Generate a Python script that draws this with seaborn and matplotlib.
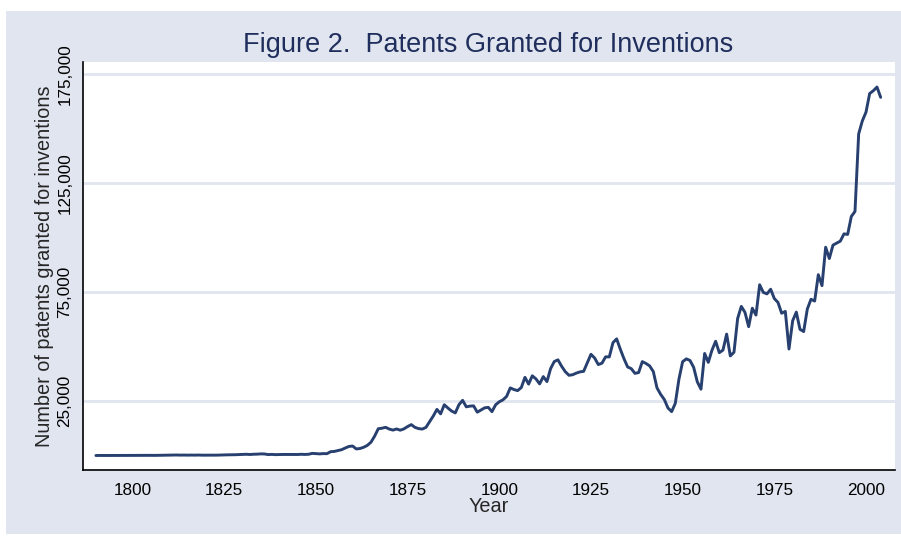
# Patents granted for inventions, 1790-2004
# Stata-like look: bluish-grey outer region, white plot area

import pandas as pd
import matplotlib.pyplot as plt
import seaborn as sns
from matplotlib.patches import Rectangle
from matplotlib.ticker import FuncFormatter

first_year = 1790
last_year = 2004

# counts, one value per year (1790-2004)
patents = [
    3, 33, 11, 20, 22, 12, 44, 51, 28, 44,                                # 1790s
    41, 44, 65, 97, 84, 57, 63, 99, 158, 203,                             # 1800s
    223, 215, 238, 181, 210, 173, 206, 174, 222, 156,                     # 1810s
    155, 168, 200, 173, 228, 304, 323, 331, 368, 447,                     # 1820s
    544, 573, 474, 586, 630, 752, 702, 426, 514, 404,                     # 1830s
    458, 490, 488, 493, 478, 473, 566, 495, 584, 984,                     # 1840s
    883, 752, 885, 844, 1755, 1881, 2302, 2674, 3455, 4160,               # 1850s
    4357, 3020, 3214, 3773, 4630, 6088, 8863, 12277, 12526, 12931,        # 1860s
    12137, 11659, 12180, 11616, 12230, 13291, 14169, 12920, 12345, 12133, # 1870s
    12903, 15548, 18135, 21162, 19118, 23285, 21767, 20403, 19551, 23324, # 1880s
    25313, 22328, 22661, 22768, 19875, 20856, 21867, 22098, 20120, 23278, # 1890s
    24644, 25546, 27119, 31029, 30258, 29775, 31170, 35859, 32757, 36574, # 1900s
    35141, 32856, 36198, 33917, 39892, 43118, 43892, 40935, 38452, 36797, # 1910s
    37060, 37798, 38369, 38616, 42574, 46432, 44733, 41717, 42357, 45267, # 1920s
    45226, 51756, 53504, 48774, 44420, 40618, 39831, 37683, 38060, 43073, # 1930s
    42238, 41109, 38514, 31054, 28053, 25695, 21803, 20139, 23963, 35131, # 1940s
    43040, 44326, 43616, 40468, 33809, 30432, 46817, 42744, 48330, 52408, # 1950s
    47170, 48368, 55691, 45679, 47375, 62857, 68406, 65652, 59104, 67559, # 1960s
    64429, 78317, 74810, 74143, 76278, 72000, 70226, 65269, 66102, 48854, # 1970s
    61819, 65771, 57888, 56860, 67200, 71661, 70860, 82952, 77924, 95537, # 1980s
    90365, 96511, 97444, 98342, 101676, 101419, 109645, 111984, 147517, 153485,  # 1990s
    157494, 166035, 167331, 169023, 164290,                               # 2000s
]
years = list(range(first_year, last_year + 1))

y_ticks = [25000, 75000, 125000, 175000]
x_ticks = [1800, 1825, 1850, 1875, 1900, 1925, 1950, 1975, 2000]

df = pd.DataFrame({"Year": years, "Patents": patents})

sns.set_style("white")
plt.rcParams["font.family"] = ["Liberation Sans", "DejaVu Sans"]

bg = "#E0E5EF"
navy = "#27406F"

fig = plt.figure(figsize=(9.01, 5.36), dpi=100, facecolor="white")
# outer grey graph region, kept behind the axes
fig.patches.append(Rectangle((6 / 901, 2 / 536), 1 - 6 / 901, 1 - 13 / 536,
                             transform=fig.transFigure, facecolor=bg,
                             edgecolor="none", zorder=-10))

ax = fig.add_axes([0.0918, 0.1231, 0.9015, 0.7612])
ax.set_zorder(5)
ax.set_facecolor("white")

sns.lineplot(data=df, x="Year", y="Patents", ax=ax, color=navy, linewidth=2.1)

ax.set_xlim(1786.4, 2007.9)
ax.set_ylim(-6650, 180500)

ax.set_yticks(y_ticks)
ax.set_xticks(x_ticks)
ax.yaxis.set_major_formatter(FuncFormatter(lambda v, p: f"{int(v):,}"))
for lab in ax.get_yticklabels():
    lab.set_rotation(90)
    lab.set_va("center")

ax.grid(axis="y", color=bg, linewidth=2)
ax.grid(axis="x", visible=False)
ax.set_axisbelow(True)

for side in ["top", "right"]:
    ax.spines[side].set_visible(False)
for side in ["left", "bottom"]:
    ax.spines[side].set_color("black")
    ax.spines[side].set_linewidth(1.2)

ax.tick_params(axis="both", direction="out", length=4.5, width=1.2,
               color="black", labelsize=12.3, labelcolor="black")
ax.tick_params(axis="y", pad=3)
ax.tick_params(axis="x", pad=5)

ax.set_ylabel("Number of patents granted for inventions", fontsize=14.3)
ax.yaxis.set_label_coords(-0.035, 0.5)
ax.set_xlabel("Year", fontsize=14.3)
ax.xaxis.set_label_coords(0.5, -0.066)

fig.text(0.5416, 0.916, "Figure 2.  Patents Granted for Inventions",
         ha="center", va="center", fontsize=19.5, color="#1F2E5C")

plt.savefig("out.png", dpi=100, facecolor=fig.get_facecolor())
